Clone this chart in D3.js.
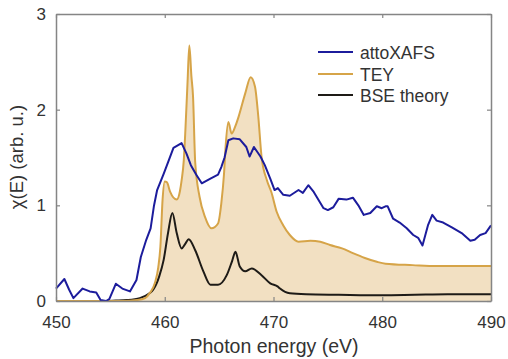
<!DOCTYPE html>
<html><head><meta charset="utf-8">
<script src="https://cdn.jsdelivr.net/npm/d3@7"></script>
<style>
body{margin:0;background:#fff;}
text{font-family:"Liberation Sans",Arial,Helvetica,sans-serif;fill:#333;}
</style></head>
<body><svg id="c" width="508" height="359"></svg>
<script>
const xTicks = [450, 460, 470, 480, 490];
const yTicks = [0, 1, 2, 3];
const seriesNames = ["attoXAFS", "TEY", "BSE theory"];

const attoE = [450.0,450.77,451.2,451.6,452.45,453.1,453.7,454.1,454.6,454.9,455.5,456.1,456.8,457.4,457.8,458.3,458.7,459.0,459.3,459.9,460.3,460.8,461.55,462.0,462.4,462.9,463.4,464.2,464.9,465.2,465.5,465.85,466.3,466.9,467.5,467.8,468.2,468.8,469.2,469.7,470.1,470.4,470.9,471.5,472.3,472.7,473.2,473.7,474.6,475.0,475.5,476.0,476.7,477.3,477.8,478.3,478.9,479.5,479.95,480.3,480.5,481.0,481.6,482.25,482.85,483.3,483.7,484.2,484.6,485.0,485.6,486.4,487.3,488.1,488.5,489.0,489.5,490.0];
const attoV = [0.13,0.23,0.12,0.03,0.13,0.10,0.09,0.01,0.0,0.02,0.18,0.13,0.10,0.22,0.46,0.64,0.76,0.99,1.16,1.33,1.45,1.60,1.65,1.54,1.42,1.32,1.23,1.28,1.32,1.40,1.50,1.68,1.70,1.69,1.61,1.51,1.61,1.51,1.42,1.28,1.16,1.18,1.11,1.10,1.16,1.13,1.21,1.14,0.97,0.95,0.98,1.07,1.06,1.08,1.00,0.90,0.92,0.99,0.97,0.99,0.99,0.86,0.82,0.76,0.69,0.66,0.58,0.79,0.90,0.84,0.82,0.77,0.71,0.63,0.64,0.69,0.71,0.79];

const teyE = [450,456,457.5,458.2,458.6,459.1,459.4,459.6,459.8,460.0,460.2,460.5,461.1,461.4,461.55,461.75,461.9,462.1,462.26,462.45,462.6,462.8,463.2,463.7,464.3,464.9,465.2,465.45,465.6,465.85,466.15,466.5,466.8,467.4,467.9,468.3,468.6,468.9,469.4,469.8,470.3,470.9,471.5,472.3,473.4,474.3,475.2,476.3,477.3,478.4,479.5,480.3,482.8,485,490];
const teyV = [0,0,0.01,0.03,0.08,0.19,0.35,0.57,1.06,1.25,1.24,1.14,1.06,1.15,1.26,1.47,1.79,2.3,2.67,2.35,2.14,1.45,1.09,0.88,0.76,0.81,1.02,1.33,1.62,1.87,1.75,1.83,1.93,2.17,2.34,2.24,1.93,1.51,1.26,1.14,0.93,0.79,0.69,0.62,0.63,0.62,0.585,0.55,0.50,0.45,0.41,0.39,0.375,0.365,0.365];

const bseE = [450,454,455.5,456.5,457.7,458.6,458.95,459.5,459.9,460.3,460.7,461.1,461.55,461.9,462.2,462.8,463.55,464.2,464.9,465.7,466.2,466.5,466.9,467.4,468.0,468.9,469.7,470.4,470.6,471.5,473,476,480,483,486,490];
const bseV = [0,0,0.005,0.01,0.03,0.08,0.12,0.26,0.43,0.71,0.92,0.71,0.55,0.60,0.645,0.53,0.31,0.17,0.17,0.27,0.42,0.515,0.36,0.31,0.34,0.27,0.185,0.15,0.13,0.08,0.07,0.065,0.06,0.065,0.07,0.07];

const svg = d3.select("#c");
const L = 56, R = 491, T = 14, B = 301;
const x = d3.scaleLinear().domain([450, 490]).range([L, R]);
const y = d3.scaleLinear().domain([0, 3]).range([B, T]);

const zip = (E, V) => E.map((e, i) => [e, V[i]]);
const atto = zip(attoE, attoV), tey = zip(teyE, teyV), bse = zip(bseE, bseV);

const cBlue = "#1c1c9c", cGold = "#d6a448", cBlack = "#1e1b17", cFill = "#f2e0c2";

svg.append("path").datum(tey)
  .attr("d", d3.area().x(d => x(d[0])).y0(y(0)).y1(d => y(d[1])).curve(d3.curveMonotoneX))
  .attr("fill", cFill);

const line = (c) => d3.line().x(d => x(d[0])).y(d => y(d[1])).curve(c);
svg.append("path").datum(bse).attr("d", line(d3.curveMonotoneX)).attr("fill","none").attr("stroke",cBlack).attr("stroke-width",2);
svg.append("path").datum(tey).attr("d", line(d3.curveMonotoneX)).attr("fill","none").attr("stroke",cGold).attr("stroke-width",2);
svg.append("path").datum(atto).attr("d", line(d3.curveLinear)).attr("fill","none").attr("stroke",cBlue).attr("stroke-width",2).attr("stroke-linejoin","round");

// axes box
const axC = "#858585";
const gB = svg.append("g").attr("transform", `translate(0,${B})`)
  .call(d3.axisBottom(x).tickValues(xTicks).tickSizeInner(-4).tickSizeOuter(0).tickPadding(15).tickFormat(d3.format("d")));
const gT = svg.append("g").attr("transform", `translate(0,${T})`)
  .call(d3.axisTop(x).tickValues(xTicks).tickSizeInner(-4).tickSizeOuter(0).tickFormat(""));
const gL = svg.append("g").attr("transform", `translate(${L},0)`)
  .call(d3.axisLeft(y).tickValues(yTicks).tickSizeInner(-4).tickSizeOuter(0).tickPadding(10).tickFormat(d3.format("d")));
const gR = svg.append("g").attr("transform", `translate(${R},0)`)
  .call(d3.axisRight(y).tickValues(yTicks).tickSizeInner(-4).tickSizeOuter(0).tickFormat(""));
[gB, gT, gL, gR].forEach(g => {
  g.select(".domain").attr("stroke", axC).attr("stroke-width", 1.5);
  g.selectAll(".tick line").attr("stroke", axC).attr("stroke-width", 1.2);
  g.selectAll("text").attr("font-size", 17).attr("fill", "#333").attr("font-family", "Liberation Sans, Arial, sans-serif");
});

svg.append("text").attr("x", 274).attr("y", 353).attr("text-anchor", "middle")
  .attr("font-size", 19.5).text("Photon energy (eV)");
svg.append("text").attr("transform", "translate(23,157) rotate(-90)").attr("text-anchor", "middle")
  .attr("font-size", 18.5).text("χ(E) (arb. u.)");

// legend
const leg = svg.append("g");
const legColors = [cBlue, cGold, cBlack];
const legY = [52, 74, 95];
seriesNames.forEach((n, i) => {
  leg.append("line").attr("x1", 318).attr("x2", 353).attr("y1", legY[i]).attr("y2", legY[i])
    .attr("stroke", legColors[i]).attr("stroke-width", 2);
  leg.append("text").attr("x", 360).attr("y", legY[i] + 7).attr("font-size", 17.5).text(n);
});
</script></body></html>
